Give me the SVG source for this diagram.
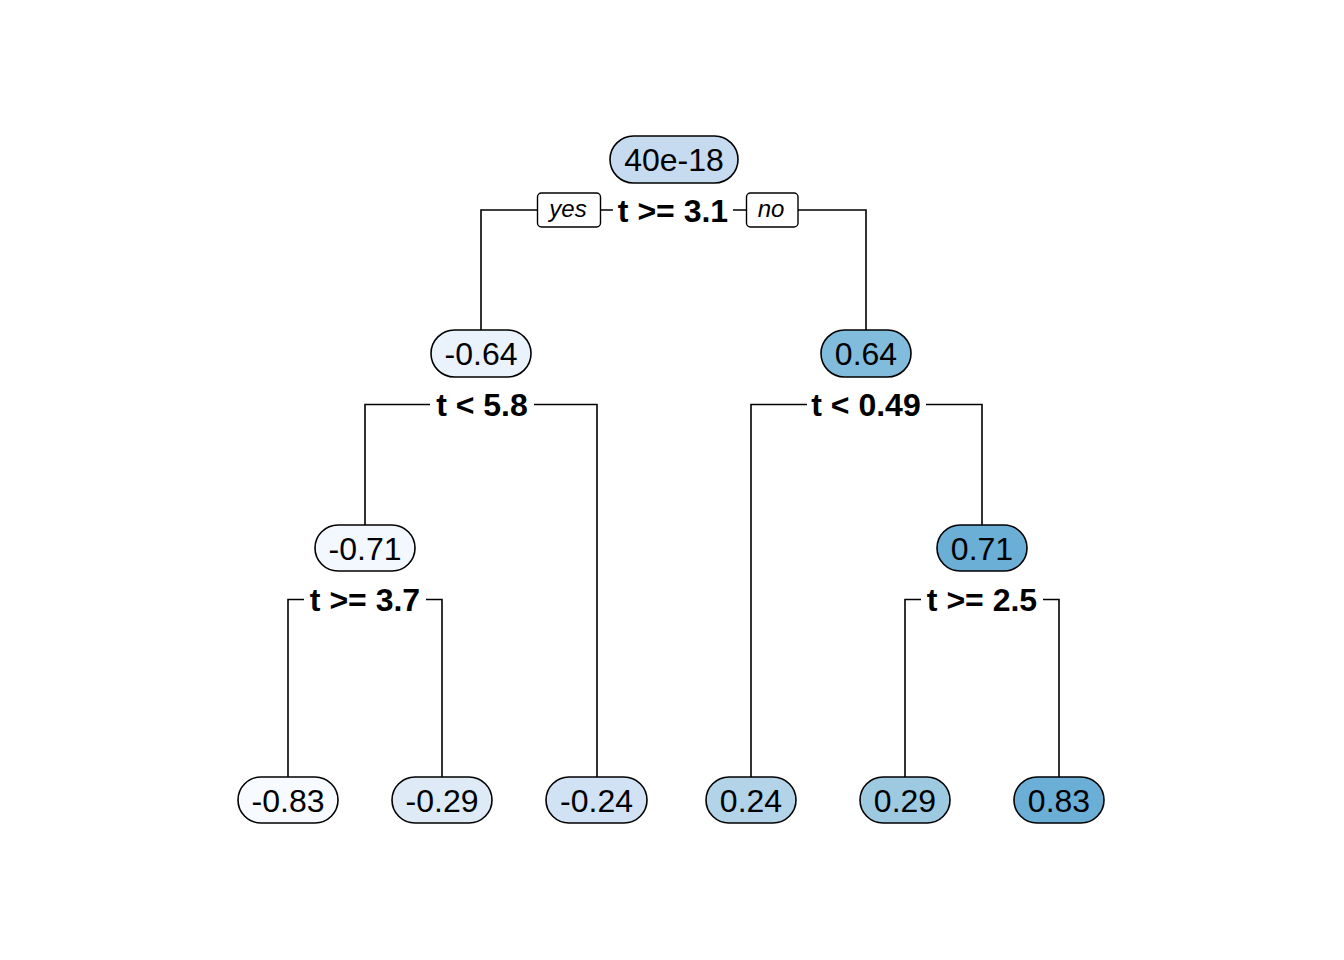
<svg xmlns="http://www.w3.org/2000/svg" width="1344" height="960" viewBox="0 0 1344 960">
<style>
.edge{fill:none;stroke:#000;stroke-width:1.6}
.pill{stroke:#000;stroke-width:1.6}
.num{font-family:"Liberation Sans",Arial,sans-serif;font-size:32px;text-anchor:middle;fill:#000}
.split{font-family:"Liberation Sans",Arial,sans-serif;font-size:32px;font-weight:bold;text-anchor:middle;fill:#000}
.bg{fill:#fff}
.yn{fill:#fff;stroke:#000;stroke-width:1.4}
.ynt{font-family:"Liberation Sans",Arial,sans-serif;font-size:24px;font-style:italic;text-anchor:middle;fill:#000}
</style>
<rect width="1344" height="960" fill="#fff"/>
<g id="connectors">
<path class="edge" d="M481 330V210H866V330"/>
<path class="edge" d="M365 525V404.5H597V777"/>
<path class="edge" d="M751 777V404.5H982V525"/>
<path class="edge" d="M288 777V599.5H442V777"/>
<path class="edge" d="M905 777V599.5H1059V777"/>
</g>
<g id="split-labels">
<rect class="bg" x="613" y="195" width="120" height="30"/>
<text class="split" x="673" y="221.5">t &gt;= 3.1</text>
<rect class="yn" x="537.5" y="193" width="63" height="34" rx="4"/>
<text class="ynt" x="568" y="217">yes</text>
<rect class="yn" x="746.5" y="193" width="51.5" height="34" rx="4"/>
<text class="ynt" x="771" y="217">no</text>
<rect class="bg" x="430" y="390" width="104" height="30"/>
<text class="split" x="482" y="416">t &lt; 5.8</text>
<rect class="bg" x="807" y="390" width="119" height="30"/>
<text class="split" x="866" y="416">t &lt; 0.49</text>
<rect class="bg" x="304" y="585" width="122" height="30"/>
<text class="split" x="365" y="611">t &gt;= 3.7</text>
<rect class="bg" x="921" y="585" width="122" height="30"/>
<text class="split" x="982" y="611">t &gt;= 2.5</text>
</g>
<g id="n1"><rect class="pill" x="610" y="136" width="128" height="47" rx="23.5" fill="#C6DBEF"/><text class="num" x="674" y="171">40e-18</text></g>
<g id="n2"><rect class="pill" x="431" y="330" width="100" height="47" rx="23.5" fill="#EAF2FB"/><text class="num" x="481" y="365">-0.64</text></g>
<g id="n3"><rect class="pill" x="821" y="330" width="90" height="47" rx="23.5" fill="#82BCDD"/><text class="num" x="866" y="365">0.64</text></g>
<g id="n4"><rect class="pill" x="315" y="525" width="100" height="46" rx="23" fill="#F3F8FE"/><text class="num" x="365" y="560">-0.71</text></g>
<g id="n7"><rect class="pill" x="937" y="525" width="90" height="46" rx="23" fill="#6BAED6"/><text class="num" x="982" y="560">0.71</text></g>
<g id="n8"><rect class="pill" x="238" y="777" width="100" height="46" rx="23" fill="#F7FBFF"/><text class="num" x="288" y="812">-0.83</text></g>
<g id="n9"><rect class="pill" x="392" y="777" width="100" height="46" rx="23" fill="#DEEBF7"/><text class="num" x="442" y="812">-0.29</text></g>
<g id="n5"><rect class="pill" x="546" y="777" width="101" height="46" rx="23" fill="#D0E2F3"/><text class="num" x="596.5" y="812">-0.24</text></g>
<g id="n6"><rect class="pill" x="706" y="777" width="90" height="46" rx="23" fill="#B2D3E8"/><text class="num" x="751" y="812">0.24</text></g>
<g id="n14"><rect class="pill" x="860" y="777" width="90" height="46" rx="23" fill="#9DCAE1"/><text class="num" x="905" y="812">0.29</text></g>
<g id="n15"><rect class="pill" x="1014" y="777" width="90" height="46" rx="23" fill="#6BAED6"/><text class="num" x="1059" y="812">0.83</text></g>
</svg>
